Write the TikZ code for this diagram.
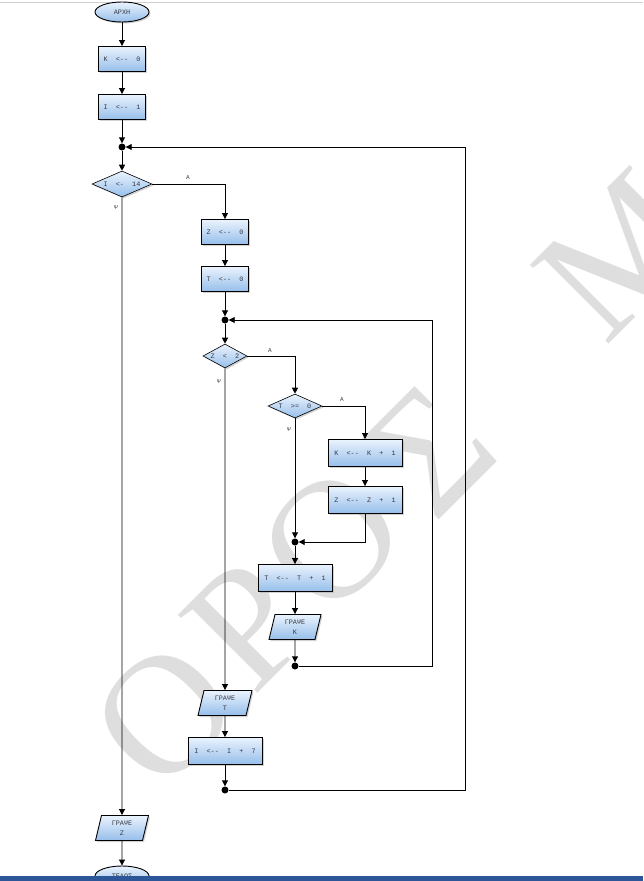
\documentclass[tikz,border=0pt]{standalone}
\usepackage{fontspec}
\usetikzlibrary{shapes.geometric,arrows.meta,shadows}
\newfontfamily\flowfont{Liberation Mono}
\newfontfamily\markfont{Liberation Serif}
\definecolor{boxtop}{RGB}{234,243,253}
\definecolor{boxbot}{RGB}{150,190,234}
\definecolor{inktext}{RGB}{55,55,65}
\definecolor{barblue}{RGB}{44,86,152}
\newcommand{\cond}[1]{\makebox[0pt]{#1}}
\tikzset{
  base/.style={draw=black, line width=0.9pt, text=inktext,
    font=\flowfont\fontsize{6.8}{10}\selectfont,
    top color=boxtop, bottom color=boxbot,
    drop shadow={shadow xshift=1.5pt, shadow yshift=-1.5pt, fill=black!35}},
  terminal/.style={base, ellipse, minimum width=54pt, minimum height=20pt, inner sep=0pt},
  procbox/.style={base, rectangle, minimum height=25pt, inner sep=2pt},
  decision/.style={base, diamond, inner sep=0pt, line width=0.6pt},
  iobox/.style={base, trapezium, trapezium left angle=70, trapezium right angle=110,
    trapezium stretches body, minimum height=25pt, align=center, inner sep=1pt},
  joint/.style={circle, fill=black, inner sep=0pt, minimum size=7pt},
  flow/.style={line width=0.9pt, -{Triangle[length=6pt,width=6pt]}},
  lbl/.style={text=inktext, font=\flowfont\fontsize{6}{6}\selectfont, inner sep=0pt},
  wmark/.style={text=black!13, font=\markfont\fontsize{170}{170}\selectfont, rotate=45, inner sep=0pt}
}
\begin{document}
\begin{tikzpicture}[x=1pt,y=-1pt]
    \useasboundingbox (0,0) rectangle (643,881);
    \node[wmark] (w1) at (165,715) {Ο};
    \node[wmark] (w2) at (248,625) {Ρ};
    \node[wmark] (w3) at (332,540) {Ο};
    \node[wmark] (w4) at (430,450) {Σ};
    \node[wmark] (w5) at (620,255) {Μ};
    \draw[black!18, line width=1pt] (0,2) -- (643,2);

    \node[terminal] (start) at (122,12) {ΑΡΧΗ};
    \node[procbox, minimum width=47pt] (k0) at (122,59) {Κ~~<-{}-~~0};
    \node[procbox, minimum width=47pt] (i1) at (122,107) {Ι~~<-{}-~~1};
    \node[joint] (j1) at (122,147) {};
    \node[decision, minimum width=60pt, minimum height=26pt] (d1) at (122,184) {\cond{Ι~~<-~~14}};
    \node[lbl] (a1) at (188,178) {Α};
    \node[lbl] (n1) at (116,208) {Ψ};
    \node[procbox, minimum width=47pt] (z0) at (225,232) {Ζ~~<-{}-~~0};
    \node[procbox, minimum width=47pt] (t0) at (225,279) {Τ~~<-{}-~~0};
    \node[joint] (j2) at (225,320) {};
    \node[decision, minimum width=44pt, minimum height=24pt] (d2) at (225,356) {\cond{Ζ~~<~~2}};
    \node[lbl] (a2) at (270,351) {Α};
    \node[lbl] (n2) at (219,382) {Ψ};
    \node[decision, minimum width=54pt, minimum height=24pt] (d3) at (295,406) {\cond{Τ~~>=~~0}};
    \node[lbl] (a3) at (342,400) {Α};
    \node[lbl] (n3) at (289,430) {Ψ};
    \node[procbox, minimum width=74pt, minimum height=27pt] (kinc) at (365,453) {Κ~~<-{}-~~Κ~~+~~1};
    \node[procbox, minimum width=74pt, minimum height=27pt] (zinc) at (365,500) {Ζ~~<-{}-~~Ζ~~+~~1};
    \node[joint] (j3) at (295,542) {};
    \node[procbox, minimum width=74pt, minimum height=27pt] (tinc) at (295,578) {Τ~~<-{}-~~Τ~~+~~1};
    \node[iobox, minimum width=52pt] (wk) at (295,627) {ΓΡΑΨΕ\\Κ};
    \node[joint] (j4) at (295,666) {};
    \coordinate (r2) at (432,666);
    \node[iobox, minimum width=54pt] (wt) at (225,703) {ΓΡΑΨΕ\\Τ};
    \node[procbox, minimum width=74pt, minimum height=27pt] (iinc) at (225,751) {Ι~~<-{}-~~Ι~~+~~7};
    \node[joint] (j5) at (225,790) {};
    \coordinate (r1) at (465,790);
    \node[iobox, minimum width=53pt] (wz) at (122,828) {ΓΡΑΨΕ\\Ζ};
    \node[terminal] (end) at (122,876) {ΤΕΛΟΣ};

    \draw[flow] (start) -- (k0);
    \draw[flow] (k0) -- (i1);
    \draw[flow] (i1) -- (j1);
    \draw[flow] (j1) -- (d1);
    \draw[flow] (d1.east) -| (z0);
    \draw[flow] (z0) -- (t0);
    \draw[flow] (t0) -- (j2);
    \draw[flow] (j2) -- (d2);
    \draw[flow] (d2.east) -| (d3);
    \draw[flow] (d3.east) -| (kinc);
    \draw[flow] (kinc) -- (zinc);
    \draw[flow] (zinc) |- (j3);
    \draw[flow] (d3.south) -- (j3);
    \draw[flow] (j3) -- (tinc);
    \draw[flow] (tinc) -- (wk);
    \draw[flow] (wk) -- (j4);
    \draw[flow] (j4) -- (r2) |- (j2);
    \draw[flow] (d2.south) -- (wt);
    \draw[flow] (wt) -- (iinc);
    \draw[flow] (iinc) -- (j5);
    \draw[flow] (j5) -- (r1) |- (j1);
    \draw[flow] (d1.south) -- (wz);
    \draw[flow] (wz) -- (end);

    \fill[barblue] (0,876) rectangle (643,881);
\end{tikzpicture}
\end{document}
